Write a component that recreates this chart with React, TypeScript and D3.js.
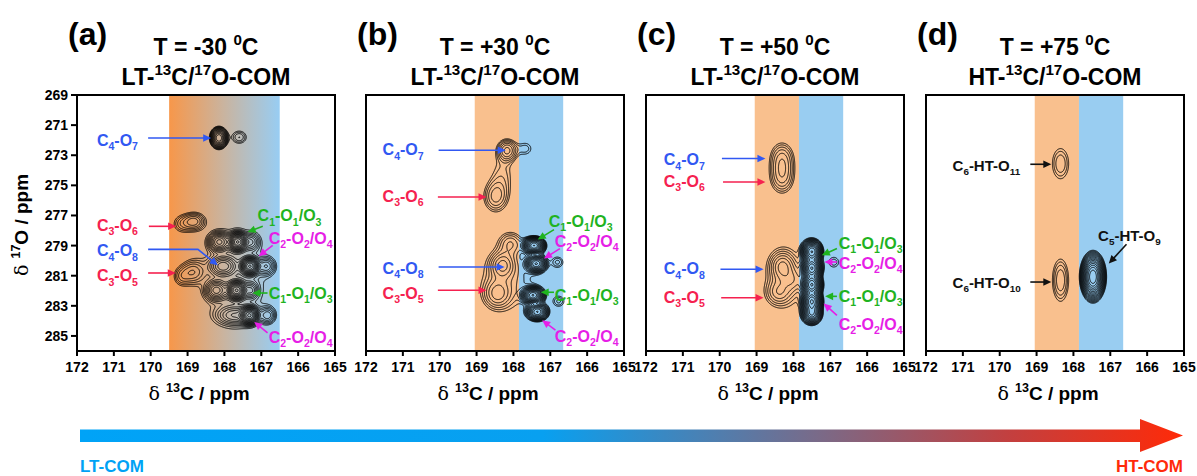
import * as d3 from 'd3';
import { useMemo } from 'react';

// peak: [13C ppm, 17O ppm, outer half-width 13C, outer half-width 17O, contour levels]
type Peak = [number, number, number, number, number];
type Note = { t: string; k: string; at: [number, number]; arrow: [number, number][] };

const xTicks = [172, 171, 170, 169, 168, 167, 166, 165];
const yTicks = [269, 271, 273, 275, 277, 279, 281, 283, 285];
const tags = ['(a)', '(b)', '(c)', '(d)'];
const temps = ['-30', '+30', '+50', '+75'];
const phases = ['LT', 'LT', 'LT', 'HT'];
const bandLT: [number, number] = [169.5, 166.5];
const bandOrange: [number, number] = [169.05, 167.85];
const bandBlue: [number, number] = [167.85, 166.65];

const peaksA: Peak[] = [
  [168.15, 271.85, 0.26, 0.78, 13],
  [167.6, 271.8, 0.19, 0.4, 3],
  [168.82, 277.4, 0.27, 0.55, 5],
  [169.16, 277.55, 0.18, 0.42, 2],
  [168.85, 280.75, 0.27, 0.66, 4],
  [169.17, 281.05, 0.15, 0.42, 2],
  [168.14, 278.76, 0.32, 0.7, 10],
  [167.64, 278.76, 0.3, 0.75, 15],
  [167.28, 278.76, 0.2, 0.5, 5],
  [168.04, 280.37, 0.38, 0.68, 8],
  [167.31, 280.37, 0.3, 0.7, 15],
  [166.86, 280.37, 0.21, 0.5, 5],
  [168.22, 281.97, 0.32, 0.7, 9],
  [167.67, 281.97, 0.32, 0.75, 15],
  [167.28, 281.97, 0.18, 0.5, 6],
  [167.73, 283.63, 0.45, 0.58, 6],
  [167.32, 283.63, 0.3, 0.7, 15],
  [166.83, 283.63, 0.2, 0.5, 5],
  [167.7, 281.2, 0.75, 2.9, 2],
];

const peaksB: Peak[] = [
  [168.17, 272.67, 0.27, 0.73, 6],
  [167.67, 272.56, 0.14, 0.33, 1.5],
  [168.3, 274.3, 0.19, 0.8, 1.2],
  [168.49, 275.77, 0.3, 0.93, 4],
  [168.08, 278.85, 0.25, 0.6, 3],
  [168.3, 280.3, 0.3, 0.8, 5],
  [168.44, 282.2, 0.3, 0.8, 4],
  [168.15, 281.3, 0.6, 1.6, 2],
  [167.44, 279.0, 0.34, 0.65, 15],
  [167.38, 280.2, 0.32, 0.65, 13],
  [166.8, 280.1, 0.13, 0.3, 2],
  [167.47, 282.3, 0.35, 0.65, 15],
  [167.35, 283.4, 0.33, 0.65, 13],
  [166.77, 282.7, 0.13, 0.3, 2],
];

const peaksC: Peak[] = [
  [168.31, 273.2, 0.3, 1.0, 4],
  [168.31, 274.5, 0.3, 1.0, 4],
  [168.3, 280.4, 0.3, 0.9, 5],
  [168.4, 282.1, 0.25, 0.6, 3],
  [168.0, 281.3, 0.15, 0.4, 1.5],
  [168.2, 281.2, 0.42, 1.5, 1.5],
  [167.5, 279.4, 0.32, 0.9, 15],
  [167.5, 280.5, 0.32, 0.9, 15],
  [167.5, 281.6, 0.32, 0.9, 15],
  [167.5, 282.7, 0.32, 0.9, 15],
  [167.5, 283.5, 0.3, 0.8, 13],
  [166.9, 280.1, 0.12, 0.3, 1.5],
];

const peaksD: Peak[] = [
  [168.35, 273.56, 0.22, 1.0, 3],
  [168.35, 281.3, 0.22, 1.4, 4],
  [167.47, 281.07, 0.37, 1.76, 16],
];

const notesA: Note[] = [
  { t: 'C_{4}-O_{7}', k: 'blue', at: [171.46, 272.37], arrow: [[170.07, 271.86], [168.36, 271.86]] },
  { t: 'C_{3}-O_{6}', k: 'red', at: [171.46, 278.02], arrow: [[170.05, 277.72], [169.31, 277.72]] },
  { t: 'C_{4}-O_{8}', k: 'blue', at: [171.46, 279.71], arrow: [[170.07, 279.25], [168.72, 279.25], [168.18, 280.31]] },
  { t: 'C_{3}-O_{5}', k: 'red', at: [171.46, 281.37], arrow: [[170.07, 280.82], [169.32, 280.82]] },
  { t: 'C_{1}-O_{1}/O_{3}', k: 'green', at: [167.1, 277.39], arrow: [[166.96, 277.72], [167.37, 278.1]] },
  { t: 'C_{2}-O_{2}/O_{4}', k: 'magenta', at: [166.8, 278.87], arrow: [[166.69, 278.98], [167.07, 279.71]] },
  { t: 'C_{1}-O_{1}/O_{3}', k: 'green', at: [166.8, 282.52], arrow: [[166.83, 282.15], [167.24, 282.15]] },
  { t: 'C_{2}-O_{2}/O_{4}', k: 'magenta', at: [166.8, 285.47], arrow: [[166.83, 284.8], [167.19, 284.07]] },
];

const notesB: Note[] = [
  { t: 'C_{4}-O_{7}', k: 'blue', at: [171.55, 273.0], arrow: [[170.03, 272.67], [168.21, 272.67]] },
  { t: 'C_{3}-O_{6}', k: 'red', at: [171.55, 276.1], arrow: [[170.05, 275.77], [168.73, 275.77]] },
  { t: 'C_{4}-O_{8}', k: 'blue', at: [171.55, 280.86], arrow: [[170.03, 280.42], [168.24, 280.42]] },
  { t: 'C_{3}-O_{5}', k: 'red', at: [171.55, 282.52], arrow: [[170.05, 281.97], [168.73, 281.97]] },
  { t: 'C_{1}-O_{1}/O_{3}', k: 'green', at: [167.04, 277.76], arrow: [[166.9, 277.94], [167.34, 278.6]] },
  { t: 'C_{2}-O_{2}/O_{4}', k: 'magenta', at: [166.88, 279.09], arrow: [[166.74, 279.2], [167.17, 279.86]] },
  { t: 'C_{1}-O_{1}/O_{3}', k: 'green', at: [166.88, 282.68], arrow: [[166.9, 282.1], [167.26, 282.1]] },
  { t: 'C_{2}-O_{2}/O_{4}', k: 'magenta', at: [166.88, 285.4], arrow: [[166.86, 284.62], [167.22, 283.96]] },
];

const notesC: Note[] = [
  { t: 'C_{4}-O_{7}', k: 'blue', at: [171.52, 273.67], arrow: [[169.94, 273.22], [168.76, 273.22]] },
  { t: 'C_{3}-O_{6}', k: 'red', at: [171.52, 275.11], arrow: [[169.91, 274.78], [168.76, 274.78]] },
  { t: 'C_{4}-O_{8}', k: 'blue', at: [171.52, 280.9], arrow: [[169.98, 280.57], [168.81, 280.57]] },
  { t: 'C_{3}-O_{5}', k: 'red', at: [171.52, 282.81], arrow: [[169.96, 282.46], [168.81, 282.46]] },
  { t: 'C_{1}-O_{1}/O_{3}', k: 'green', at: [166.77, 279.2], arrow: [[166.82, 279.2], [167.23, 279.64]] },
  { t: 'C_{2}-O_{2}/O_{4}', k: 'magenta', at: [166.77, 280.53], arrow: [[166.82, 280.09], [167.16, 280.09]] },
  { t: 'C_{1}-O_{1}/O_{3}', k: 'green', at: [166.77, 282.74], arrow: [[166.82, 282.37], [167.14, 282.37]] },
  { t: 'C_{2}-O_{2}/O_{4}', k: 'magenta', at: [166.77, 284.58], arrow: [[166.82, 283.63], [167.18, 282.85]] },
];

const notesD: Note[] = [
  { t: 'C_{6}-HT-O_{11}', k: 'black', at: [171.28, 274.05], arrow: [[169.17, 273.6], [168.6, 273.6]] },
  { t: 'C_{6}-HT-O_{10}', k: 'black', at: [171.28, 281.79], arrow: [[169.17, 281.42], [168.6, 281.42]] },
  { t: 'C_{5}-HT-O_{9}', k: 'black', at: [167.33, 278.69], arrow: [[166.56, 278.91], [167.04, 280.19]] },
];

const ink: Record<string, string> = {
  blue: '#3158f2',
  red: '#f5214f',
  green: '#1fb31f',
  magenta: '#e61ee6',
  black: '#111111',
};

const FONT = "'Liberation Sans', Arial, sans-serif";
const LEFTS = [77, 366, 646, 926];
const PW = 258;
const TOP = 95;
const PH = 256;
const RATIO = 1.25;
const LEVELS = d3.range(0, 24).map((k) => RATIO ** k);

function contourPaths(peaks: Peak[], x: d3.ScaleLinear<number, number>, y: d3.ScaleLinear<number, number>) {
  const [x0, x1] = x.range();
  const [y0, y1] = y.range();
  const nx = Math.round(x1 - x0);
  const ny = Math.round(y1 - y0);
  const g = peaks.map(([c, o, rc, ro, n]) => {
    const s = Math.sqrt(2 * n * Math.log(RATIO));
    return { c, o, sc: rc / s, so: ro / s, a: RATIO ** n };
  });
  const values: number[] = new Array(nx * ny);
  for (let j = 0; j < ny; j++) {
    const o = y.invert(y0 + j + 0.5);
    for (let i = 0; i < nx; i++) {
      const c = x.invert(x0 + i + 0.5);
      let v = 0;
      for (const p of g) {
        const dc = (c - p.c) / p.sc;
        const dd = (o - p.o) / p.so;
        const e = dc * dc + dd * dd;
        if (e < 60) v += p.a * Math.exp(-0.5 * e);
      }
      values[j * nx + i] = v;
    }
  }
  const proj = d3.geoTransform({
    point(px: number, py: number) {
      (this as any).stream.point(x0 + px, y0 + py);
    },
  });
  const path = d3.geoPath(proj);
  return d3.contours().size([nx, ny]).thresholds(LEVELS)(values).map((m) => path(m) ?? '');
}

function Rich({ s, size }: { s: string; size: number }) {
  const parts = s.split(/([_^]\{[^}]*\})/).filter((p) => p !== '');
  let shift = 0;
  return (
    <>
      {parts.map((p, i) => {
        const sub = p.startsWith('_{');
        const sup = p.startsWith('^{');
        const target = sub ? size * 0.28 : sup ? -size * 0.42 : 0;
        const dy = target - shift;
        shift = target;
        return (
          <tspan key={i} dy={dy} fontSize={sub || sup ? size * 0.66 : undefined}>
            {sub || sup ? p.slice(2, -1) : p}
          </tspan>
        );
      })}
    </>
  );
}

function Arrow({ pts, color }: { pts: [number, number][]; color: string }) {
  const n = pts.length;
  const [tx, ty] = pts[n - 1];
  const [px, py] = pts[n - 2];
  const ang = Math.atan2(ty - py, tx - px);
  const L = 8;
  const w = 3.8;
  const bx = tx - L * Math.cos(ang);
  const by = ty - L * Math.sin(ang);
  const line = d3.line()([...pts.slice(0, -1), [bx + Math.cos(ang), by + Math.sin(ang)]]);
  const head = `M${tx},${ty}L${bx - w * Math.sin(ang)},${by + w * Math.cos(ang)}L${bx + w * Math.sin(ang)},${by - w * Math.cos(ang)}Z`;
  return (
    <g>
      <path d={line ?? ''} fill='none' stroke={color} strokeWidth={1.6} />
      <path d={head} fill={color} />
    </g>
  );
}

function Panel({ i, peaks, notes, fs }: { i: number; peaks: Peak[]; notes: Note[]; fs: number }) {
  const left = LEFTS[i];
  const x = d3.scaleLinear([172, 165], [left, left + PW]);
  const y = d3.scaleLinear([269, 286], [TOP, TOP + PH]);
  const paths = useMemo(() => contourPaths(peaks, x, y), [peaks]);
  const cx = left + PW / 2;
  return (
    <g fontFamily={FONT} fontWeight='bold'>
      <text x={left - 9} y={45} fontSize={32}>{tags[i]}</text>
      <text x={cx} y={55} fontSize={23} textAnchor='middle'>
        <Rich s={`T = ${temps[i]} ^{0}C`} size={23} />
      </text>
      <text x={cx} y={85} fontSize={23} textAnchor='middle'>
        <Rich s={`${phases[i]}-^{13}C/^{17}O-COM`} size={23} />
      </text>
      <clipPath id={`clip${i}`}>
        <rect x={left} y={TOP} width={PW} height={PH} />
      </clipPath>
      <g clipPath={`url(#clip${i})`}>
        {i === 0 ? (
          <rect x={x(bandLT[0])} y={TOP} width={x(bandLT[1]) - x(bandLT[0])} height={PH} fill='url(#ltGrad)' />
        ) : (
          <>
            <rect x={x(bandOrange[0])} y={TOP} width={x(bandOrange[1]) - x(bandOrange[0])} height={PH} fill='#f9c08e' />
            <rect x={x(bandBlue[0])} y={TOP} width={x(bandBlue[1]) - x(bandBlue[0])} height={PH} fill='#99cdf1' />
          </>
        )}
        <g fill='none' stroke='#000' strokeWidth={0.9}>
          {paths.map((d, k) => (
            <path key={k} d={d} />
          ))}
        </g>
      </g>
      <rect x={left} y={TOP} width={PW} height={PH} fill='none' stroke='#000' strokeWidth={2} />
      <g stroke='#000' strokeWidth={2}>
        {xTicks.map((t) => (
          <line key={t} x1={x(t)} x2={x(t)} y1={TOP + PH} y2={TOP + PH + 5} />
        ))}
        {i === 0 &&
          yTicks.map((t) => <line key={t} x1={left - 6} x2={left} y1={y(t)} y2={y(t)} />)}
      </g>
      <g fontSize={14} textAnchor='middle'>
        {xTicks.map((t) => (
          <text key={t} x={x(t)} y={372}>{t}</text>
        ))}
      </g>
      {i === 0 && (
        <g fontSize={14} textAnchor='end'>
          {yTicks.map((t) => (
            <text key={t} x={left - 9} y={y(t) + 5}>{t}</text>
          ))}
        </g>
      )}
      <text x={cx - 7} y={400} fontSize={19} textAnchor='middle'>
        <tspan fontWeight='normal' fontFamily="'DejaVu Serif', serif">δ </tspan>
        <Rich s='^{13}C / ppm' size={19} />
      </text>
      {notes.map((n, k) => (
        <g key={k}>
          <Arrow pts={n.arrow.map(([c, o]) => [x(c), y(o)] as [number, number])} color={ink[n.k]} />
          <text x={x(n.at[0])} y={y(n.at[1])} fontSize={fs} fill={ink[n.k]}>
            <Rich s={n.t} size={fs} />
          </text>
        </g>
      ))}
    </g>
  );
}

export default function App() {
  return (
    <svg width={1197} height={476} style={{ position: 'absolute', left: 0, top: 0, background: '#fff' }}>
      <defs>
        <linearGradient id='ltGrad' x1='0' x2='1' y1='0' y2='0'>
          <stop offset='0' stopColor='#f7974a' />
          <stop offset='0.5' stopColor='#c9b4a0' />
          <stop offset='1' stopColor='#98cdf3' />
        </linearGradient>
        <linearGradient id='comGrad' gradientUnits='userSpaceOnUse' x1={80} x2={1183} y1={0} y2={0}>
          <stop offset='0' stopColor='#00a3f7' />
          <stop offset='0.42' stopColor='#08a0f0' />
          <stop offset='0.67' stopColor='#7a6a88' />
          <stop offset='0.84' stopColor='#c24040' />
          <stop offset='1' stopColor='#ff2a08' />
        </linearGradient>
      </defs>
      <Panel i={0} peaks={peaksA} notes={notesA} fs={16} />
      <Panel i={1} peaks={peaksB} notes={notesB} fs={16} />
      <Panel i={2} peaks={peaksC} notes={notesC} fs={16} />
      <Panel i={3} peaks={peaksD} notes={notesD} fs={15} />
      <text
        transform='translate(28,225) rotate(-90)'
        fontFamily={FONT}
        fontWeight='bold'
        fontSize={19}
        textAnchor='middle'
      >
        <tspan fontWeight='normal' fontFamily="'DejaVu Serif', serif">δ </tspan>
        <Rich s='^{17}O / ppm' size={19} />
      </text>
      <path d='M80,429.5H1140V419L1183,435.5L1140,452V442H80Z' fill='url(#comGrad)' />
      <g fontFamily={FONT} fontWeight='bold' fontSize={17}>
        <text x={80} y={472} fill='#00a2f5'>LT-COM</text>
        <text x={1183} y={472} fill='#ff2a0a' textAnchor='end'>HT-COM</text>
      </g>
    </svg>
  );
}
